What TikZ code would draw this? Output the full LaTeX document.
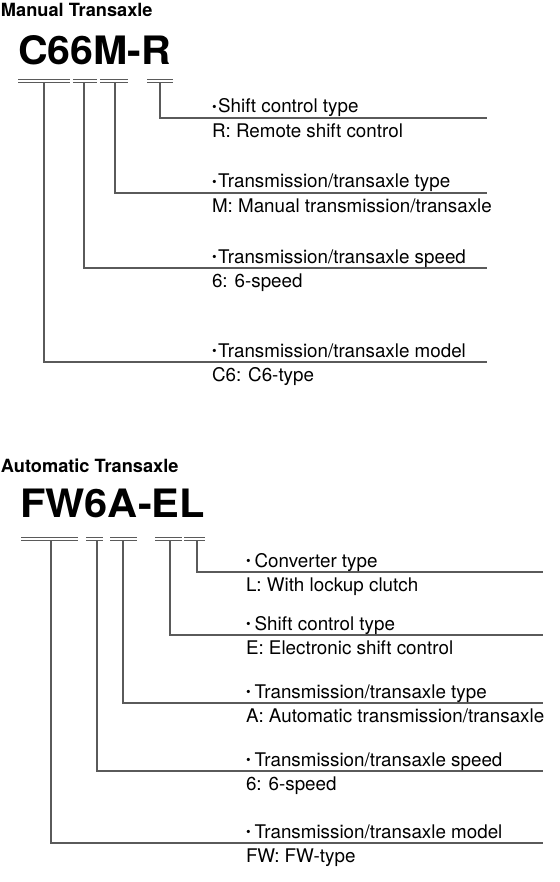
\documentclass[tikz,border=0pt]{standalone}
\usepackage{fontspec}
\setmainfont{TeX Gyre Heros}
\definecolor{linegray}{HTML}{5A5A5A}
% small centred bullet in front of each heading
\newcommand{\smallbullet}{\raisebox{0.08em}{\scalebox{0.7}{\textbullet}}}
% double underline below a code group; defines a coordinate at its lower middle
\newcommand{\codeunder}[5]{%
  \draw[rule] (#2,#4) -- (#3,#4);
  \draw[rule] (#2,#4+3) -- (#3,#4+3);
  \coordinate (#1) at (#5,#4+3);}
\begin{document}
\begin{tikzpicture}[x=1pt,y=-1pt,
  every node/.style={inner sep=0pt,outer sep=0pt,anchor=base west},
  title/.style={font=\fontsize{18.2}{20}\selectfont\bfseries},
  code/.style={font=\fontsize{41}{46}\selectfont\bfseries},
  hdr/.style={font=\fontsize{18.8}{22}\selectfont},
  desc/.style={font=\fontsize{18.8}{22}\selectfont},
  rule/.style={draw=linegray,line width=1pt},
  conn/.style={draw=linegray,line width=1.2pt},
]
\useasboundingbox (0,0) rectangle (559,882);

% ---------------- Manual transaxle ----------------
\node[title] (mt) at (1,17) {Manual Transaxle};
\node[code] (mcode) at (18,65) {\resizebox{153pt}{29pt}{C66M-R}};

\codeunder{mu1}{18}{70}{80}{44}
\codeunder{mu2}{73}{97}{80}{84}
\codeunder{mu3}{100}{128}{80}{115}
\codeunder{mu4}{147}{173}{80}{160}

\coordinate (me4) at (487,118);
\coordinate (me3) at (487,193);
\coordinate (me2) at (487,268);
\coordinate (me1) at (487,362);

\draw[conn] (mu4) |- (me4);
\draw[conn] (mu3) |- (me3);
\draw[conn] (mu2) |- (me2);
\draw[conn] (mu1) |- (me1);

\node[hdr]  (mh4) at (212,113)   {\smallbullet\hspace{1.5pt}Shift control type};
\node[desc] (md4) at (212,137.5) {R: Remote shift control};
\node[hdr]  (mh3) at (212,188)   {\smallbullet\hspace{1.5pt}Transmission/transaxle type};
\node[desc] (md3) at (212,212.5) {M: Manual transmission/transaxle};
\node[hdr]  (mh2) at (212,263)   {\smallbullet\hspace{1.5pt}Transmission/transaxle speed};
\node[desc] (md2) at (212,287.5) {6: 6-speed};
\node[hdr]  (mh1) at (212,357)   {\smallbullet\hspace{1.5pt}Transmission/transaxle model};
\node[desc] (md1) at (212,381.5) {C6: C6-type};

% ---------------- Automatic transaxle ----------------
\node[title] (at) at (1,472) {Automatic Transaxle};
\node[code] (acode) at (20,517) {\resizebox{185pt}{28.5pt}{FW6A-EL}};

\codeunder{au1}{21}{78}{537}{51}
\codeunder{au2}{86}{103}{537}{97}
\codeunder{au3}{110}{137}{537}{123}
\codeunder{au4}{155}{182}{537}{170}
\codeunder{au5}{184}{205}{537}{197}

\coordinate (ae5) at (543,572);
\coordinate (ae4) at (543,635);
\coordinate (ae3) at (543,703);
\coordinate (ae2) at (543,771);
\coordinate (ae1) at (543,843);

\draw[conn] (au5) |- (ae5);
\draw[conn] (au4) |- (ae4);
\draw[conn] (au3) |- (ae3);
\draw[conn] (au2) |- (ae2);
\draw[conn] (au1) |- (ae1);

\node[hdr]  (ah5) at (246,567)   {\smallbullet\hspace{4pt}Converter type};
\node[desc] (ad5) at (246,591.5) {L: With lockup clutch};
\node[hdr]  (ah4) at (246,630)   {\smallbullet\hspace{4pt}Shift control type};
\node[desc] (ad4) at (246,654.5) {E: Electronic shift control};
\node[hdr]  (ah3) at (246,698)   {\smallbullet\hspace{4pt}Transmission/transaxle type};
\node[desc] (ad3) at (246,722.5) {A: Automatic transmission/transaxle};
\node[hdr]  (ah2) at (246,766)   {\smallbullet\hspace{4pt}Transmission/transaxle speed};
\node[desc] (ad2) at (246,790.5) {6: 6-speed};
\node[hdr]  (ah1) at (246,838)   {\smallbullet\hspace{4pt}Transmission/transaxle model};
\node[desc] (ad1) at (246,862.5) {FW: FW-type};
\end{tikzpicture}
\end{document}
